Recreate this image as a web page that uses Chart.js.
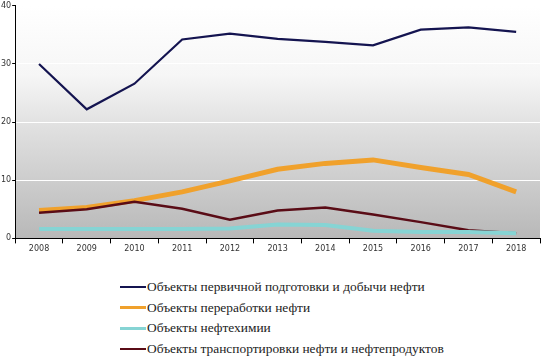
<!DOCTYPE html>
<html>
<head>
<meta charset="utf-8">
<script src="https://cdn.jsdelivr.net/npm/chart.js@4"></script>
<style>
  html, body { margin: 0; padding: 0; background: #fff; }
  #wrap { width: 542px; height: 255px; position: relative; }
  #legend { position: absolute; left: 120px; top: 277px; font-family: 'Liberation Serif', serif; font-size: 13.4px; color: #222; }
  #legend .item { display: flex; align-items: center; height: 20.5px; }
  #legend .swatch { width: 26px; margin-right: 1px; }
</style>
</head>
<body>
<div id="wrap"><canvas id="chart"></canvas></div>
<div id="legend"></div>
<script>
  // годы
  const years = ['2008','2009','2010','2011','2012','2013','2014','2015','2016','2017','2018'];

  // значения серий
  const primary   = [30.0, 22.2, 26.6, 34.2, 35.2, 34.3, 33.8, 33.2, 35.9, 36.3, 35.5];
  const refining  = [4.8, 5.3, 6.5, 8.0, 9.9, 11.9, 12.9, 13.5, 12.2, 11.0, 8.0];
  const petrochem = [1.6, 1.6, 1.6, 1.6, 1.7, 2.4, 2.3, 1.3, 1.1, 1.1, 0.9];
  const transport = [4.4, 5.0, 6.3, 5.1, 3.2, 4.8, 5.3, 4.1, 2.8, 1.4, 0.9];

  const names = [
    'Объекты первичной подготовки и добычи нефти',
    'Объекты переработки нефти',
    'Объекты нефтехимии',
    'Объекты транспортировки нефти и нефтепродуктов'
  ];

  const yTicks = [0, 10, 20, 30, 40];

  const COLORS = ['#141450', '#f0a12c', '#86d4d4', '#5a0c16'];
  const WIDTHS = [2.2, 5, 4, 2.5];

  // градиентный фон области построения
  const bgPlugin = {
    id: 'bg',
    beforeDraw(chart) {
      const { ctx, chartArea: a } = chart;
      const g = ctx.createLinearGradient(0, a.top, 0, a.bottom);
      g.addColorStop(0, '#ffffff');
      g.addColorStop(0.3, '#f6f6f6');
      g.addColorStop(0.5, '#e2e2e2');
      g.addColorStop(1, '#b8b8b8');
      ctx.save();
      ctx.fillStyle = g;
      ctx.fillRect(a.left, a.top, a.right - a.left, a.bottom - a.top);
      ctx.restore();
    }
  };

  const series = [primary, refining, petrochem, transport];
  // рисуем снизу вверх как в оригинале
  const order = [2, 3, 1, 0];

  const datasets = order.map(i => ({
    label: names[i],
    data: series[i],
    borderColor: COLORS[i],
    borderWidth: WIDTHS[i],
    pointRadius: 0,
    tension: 0,
    fill: false
  }));

  new Chart(document.getElementById('chart'), {
    type: 'line',
    data: { labels: years, datasets },
    plugins: [bgPlugin],
    options: {
      responsive: true,
      maintainAspectRatio: false,
      animation: false,
      layout: { padding: { top: 5, right: 2, left: 0, bottom: 0 } },
      plugins: { legend: { display: false }, tooltip: { enabled: false } },
      scales: {
        x: {
          offset: true,
          grid: { display: true, offset: true, drawOnChartArea: false, tickLength: 5, color: '#000' },
          border: { color: '#000', width: 1 },
          ticks: { font: { family: 'Tahoma, DejaVu Sans, sans-serif', size: 8 }, color: '#333', padding: 1, maxRotation: 0 }
        },
        y: {
          min: 0, max: 40,
          afterBuildTicks: (axis) => { axis.ticks = yTicks.map(v => ({ value: v })); },
          grid: { color: '#ffffff', lineWidth: 1, tickLength: 3, tickColor: '#000' },
          border: { color: '#000', width: 1 },
          ticks: { font: { family: 'Tahoma, DejaVu Sans, sans-serif', size: 8 }, color: '#333', padding: 1 }
        }
      }
    }
  });

  // легенда
  const legend = document.getElementById('legend');
  [0, 1, 2, 3].forEach(i => {
    const row = document.createElement('div');
    row.className = 'item';
    const sw = document.createElement('span');
    sw.className = 'swatch';
    sw.style.borderTop = Math.min(WIDTHS[i], 3) + 'px solid ' + COLORS[i];
    const t = document.createElement('span');
    t.textContent = names[i];
    row.appendChild(sw);
    row.appendChild(t);
    legend.appendChild(row);
  });
</script>
</body>
</html>
